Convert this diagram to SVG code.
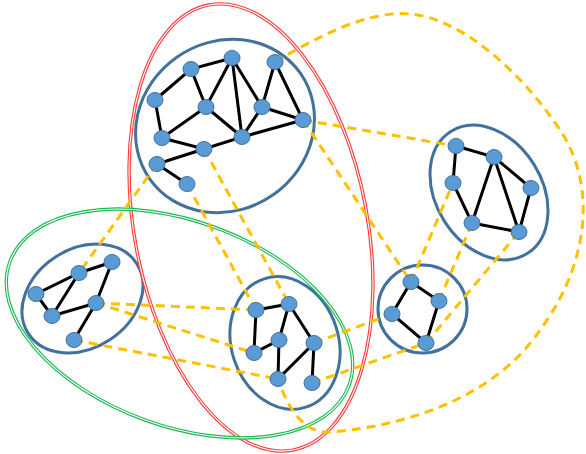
<svg xmlns="http://www.w3.org/2000/svg" width="586" height="454" viewBox="0 0 586 454">
<style>
.cl{fill:none;stroke:#41719C;stroke-width:3}
.red{fill:none;stroke:#FF3B3B;stroke-width:3.4}
.green{fill:none;stroke:#1DB954;stroke-width:3.4}
.inner{fill:none;stroke:#FFFFFF;stroke-width:1.1}
.e{stroke:#000;stroke-width:3;fill:none;stroke-linecap:round}
.d{stroke:#FFC000;stroke-width:3;fill:none;stroke-dasharray:9,6}
.n{fill:#5B9BD5;stroke:#41719C;stroke-width:1}
</style>
<rect width="586" height="454" fill="#fff"/>
<g id="clusters">
<ellipse id="clusterA" class="cl" cx="225" cy="126" rx="92" ry="84" transform="rotate(-35 225 126)"/>
<ellipse id="clusterB" class="cl" cx="489" cy="192.5" rx="72" ry="53" transform="rotate(58 489 192.5)"/>
<ellipse id="clusterC" class="cl" cx="82.5" cy="298.5" rx="64.5" ry="49.5" transform="rotate(-33 82.5 298.5)"/>
<ellipse id="clusterD" class="cl" cx="285" cy="343" rx="53.5" ry="67.5" transform="rotate(-18 285 343)"/>
<ellipse id="clusterE" class="cl" cx="422.5" cy="309" rx="44.5" ry="44"/>
</g>
<g id="groups">
<ellipse class="red" cx="251" cy="227.5" rx="116.5" ry="226.5" transform="rotate(-10.7 251 227.5)"/>
<ellipse class="inner" cx="251" cy="227.5" rx="116.5" ry="226.5" transform="rotate(-10.7 251 227.5)"/>
<ellipse class="green" cx="179.5" cy="323.5" rx="180.5" ry="102.5" transform="rotate(20 179.5 323.5)"/>
<ellipse class="inner" cx="179.5" cy="323.5" rx="180.5" ry="102.5" transform="rotate(20 179.5 323.5)"/>
</g>
<g id="connectors">
<g id="links">
<path class="d" d="M303 120L456 146"/>
<path class="d" d="M303 120L411 282"/>
<path class="d" d="M157 164L79 273"/>
<path class="d" d="M204 149L289 304"/>
<path class="d" d="M187 184L256 310"/>
<path class="d" d="M96 303L256 310"/>
<path class="d" d="M96 303L254 353"/>
<path class="d" d="M74 340L278 379"/>
<path class="d" d="M314 343L392 314"/>
<path class="d" d="M312 383L426 343"/>
<path class="d" d="M411 282L453 183"/>
<path class="d" d="M439 301L472 223"/>
<path class="d" d="M426 343L519 232"/>
<path class="d" d="M275 62C320 35 370 10 410 14C460 18 520 70 560 130C600 190 585 270 540 330C500 390 420 425 330 432C300 434 285 400 278 379"/>
</g>
<g id="edges">
<path class="e" d="M155 100L191 69L232 58M191 69L206 107L232 58L242 137L262 107L232 58M275 62L262 107L303 120L275 62M262 107L303 120M206 107L242 137L303 120M206 107L162 138L155 100M162 138L204 149L242 137M204 149L157 164L187 184"/>
<path class="e" d="M456 146L494 157L531 188L519 232L494 157L472 223L453 183L456 146M472 223L519 232"/>
<path class="e" d="M36 294L79 273L112 262L96 303L52 316L36 294M79 273L52 316M96 303L74 340"/>
<path class="e" d="M256 310L289 304L279 340L254 353L256 310M289 304L314 343L278 379L279 340M314 343L312 383"/>
<path class="e" d="M411 282L439 301L426 343L392 314L411 282"/>
</g>
</g>
<g id="nodes">
<g id="n1"><ellipse class="n" cx="191" cy="69" rx="8" ry="7.5"/></g>
<g id="n2"><ellipse class="n" cx="232" cy="58" rx="8" ry="7.5"/></g>
<g id="n3"><ellipse class="n" cx="275" cy="62" rx="8" ry="7.5"/></g>
<g id="n4"><ellipse class="n" cx="155" cy="100" rx="8" ry="7.5"/></g>
<g id="n5"><ellipse class="n" cx="206" cy="107" rx="8" ry="7.5"/></g>
<g id="n6"><ellipse class="n" cx="262" cy="107" rx="8" ry="7.5"/></g>
<g id="n7"><ellipse class="n" cx="303" cy="120" rx="8" ry="7.5"/></g>
<g id="n8"><ellipse class="n" cx="162" cy="138" rx="8" ry="7.5"/></g>
<g id="n9"><ellipse class="n" cx="242" cy="137" rx="8" ry="7.5"/></g>
<g id="n10"><ellipse class="n" cx="204" cy="149" rx="8" ry="7.5"/></g>
<g id="n11"><ellipse class="n" cx="157" cy="164" rx="8" ry="7.5"/></g>
<g id="n12"><ellipse class="n" cx="187" cy="184" rx="8" ry="7.5"/></g>
<g id="b1"><ellipse class="n" cx="456" cy="146" rx="8" ry="7.5"/></g>
<g id="b2"><ellipse class="n" cx="494" cy="157" rx="8" ry="7.5"/></g>
<g id="b3"><ellipse class="n" cx="453" cy="183" rx="8" ry="7.5"/></g>
<g id="b4"><ellipse class="n" cx="531" cy="188" rx="8" ry="7.5"/></g>
<g id="b5"><ellipse class="n" cx="472" cy="223" rx="8" ry="7.5"/></g>
<g id="b6"><ellipse class="n" cx="519" cy="232" rx="8" ry="7.5"/></g>
<g id="c1"><ellipse class="n" cx="112" cy="262" rx="8" ry="7.5"/></g>
<g id="c2"><ellipse class="n" cx="79" cy="273" rx="8" ry="7.5"/></g>
<g id="c3"><ellipse class="n" cx="36" cy="294" rx="8" ry="7.5"/></g>
<g id="c4"><ellipse class="n" cx="96" cy="303" rx="8" ry="7.5"/></g>
<g id="c5"><ellipse class="n" cx="52" cy="316" rx="8" ry="7.5"/></g>
<g id="c6"><ellipse class="n" cx="74" cy="340" rx="8" ry="7.5"/></g>
<g id="d1"><ellipse class="n" cx="256" cy="310" rx="8" ry="7.5"/></g>
<g id="d2"><ellipse class="n" cx="289" cy="304" rx="8" ry="7.5"/></g>
<g id="d3"><ellipse class="n" cx="279" cy="340" rx="8" ry="7.5"/></g>
<g id="d4"><ellipse class="n" cx="314" cy="343" rx="8" ry="7.5"/></g>
<g id="d5"><ellipse class="n" cx="254" cy="353" rx="8" ry="7.5"/></g>
<g id="d6"><ellipse class="n" cx="278" cy="379" rx="8" ry="7.5"/></g>
<g id="d7"><ellipse class="n" cx="312" cy="383" rx="8" ry="7.5"/></g>
<g id="e1"><ellipse class="n" cx="411" cy="282" rx="8" ry="7.5"/></g>
<g id="e2"><ellipse class="n" cx="439" cy="301" rx="8" ry="7.5"/></g>
<g id="e3"><ellipse class="n" cx="392" cy="314" rx="8" ry="7.5"/></g>
<g id="e4"><ellipse class="n" cx="426" cy="343" rx="8" ry="7.5"/></g>
</g>
</svg>
